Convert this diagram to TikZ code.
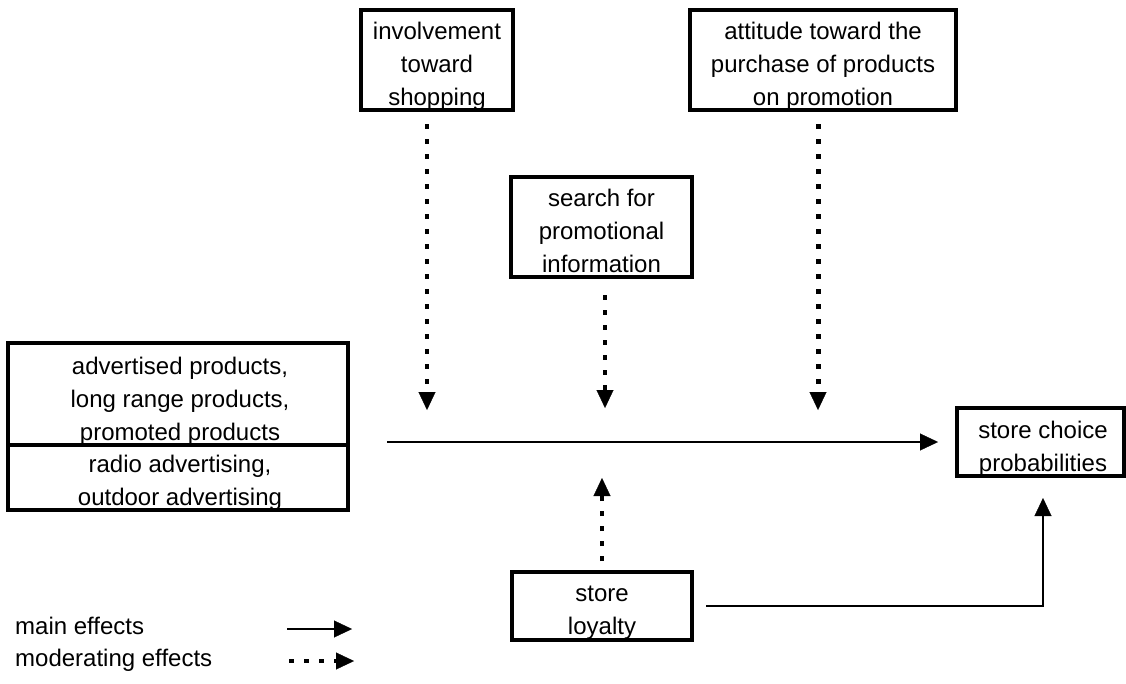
\documentclass[tikz,border=0pt]{standalone}
\usepackage{fontspec}
\setmainfont{Liberation Sans}
\usetikzlibrary{arrows.meta}
\begin{document}
\begin{tikzpicture}[x=1pt,y=-1pt,
  box/.style={draw, line width=4pt, inner sep=0pt},
  txt/.style={anchor=base, inner sep=0pt, font=\fontsize{24}{33}\selectfont},
  lbl/.style={anchor=base west, inner sep=0pt, font=\fontsize{24}{33}\selectfont},
  tiphead/.style={-{Triangle[length=18pt,width=17pt,line width=0.3pt]}},
  mainarrow/.style={tiphead, line width=1.7pt},
  modarrow/.style={tiphead, line width=4.5pt, dash pattern=on 5pt off 10pt},
]
\useasboundingbox (0,0) rectangle (1126,683);

% involvement toward shopping
\node[box, minimum width=152pt, minimum height=100pt] (inv) at (437,60) {};
\node[txt] (inv1) at (437,39) {involvement};
\node[txt] (inv2) at (437,72) {toward};
\node[txt] (inv3) at (437,105) {shopping};

% attitude toward the purchase of products on promotion
\node[box, minimum width=266pt, minimum height=100pt] (att) at (823,60) {};
\node[txt] (att1) at (823,39) {attitude toward the};
\node[txt] (att2) at (823,72) {purchase of products};
\node[txt] (att3) at (823,105) {on promotion};

% search for promotional information
\node[box, minimum width=181pt, minimum height=100pt] (search) at (601.5,227) {};
\node[txt] (s1) at (601.5,206) {search for};
\node[txt] (s2) at (601.5,239) {promotional};
\node[txt] (s3) at (601.5,272) {information};

% left boxes
\node[box, minimum width=340pt, minimum height=102pt] (adv) at (178,394) {};
\node[txt] (a1) at (180,374) {advertised products,};
\node[txt] (a2) at (180,407) {long range products,};
\node[txt] (a3) at (180,440) {promoted products};
\node[box, minimum width=340pt, minimum height=65pt] (radio) at (178,477.5) {};
\node[txt] (r1) at (180,472) {radio advertising,};
\node[txt] (r2) at (180,505) {outdoor advertising};

% store choice probabilities
\node[box, minimum width=167pt, minimum height=68pt] (choice) at (1040.5,442) {};
\node[txt] (c1) at (1043,438) {store choice};
\node[txt] (c2) at (1043,471) {probabilities};

% store loyalty
\node[box, minimum width=180pt, minimum height=68pt] (loyalty) at (602,606) {};
\node[txt] (l1) at (602,601) {store};
\node[txt] (l2) at (602,634) {loyalty};

% main effect arrow
\coordinate (mstart) at (387,442);
\draw[mainarrow] (mstart) -- ([xshift=-17pt]choice.west);

% moderating arrows
\coordinate (invtip) at (427,410);
\draw[modarrow, line width=3.5pt, shorten <=12pt] (invtip |- inv.south) -- (invtip);
\coordinate (srchtip) at (605,408);
\draw[modarrow, shorten <=16pt] (srchtip |- search.south) -- (srchtip);
\coordinate (atttip) at (818,410);
\draw[modarrow, line width=5pt, shorten <=12pt] (atttip |- att.south) -- (atttip);
\coordinate (loytip) at (602,478);
\draw[modarrow, line width=4pt, shorten <=9pt] (loyalty.north) -- (loytip);

% loyalty -> store choice
\coordinate (chtip) at (1043,498);
\draw[mainarrow, shorten <=12pt] (loyalty.east) -| (chtip);

% legend
\node[lbl] (lmain) at (15,634) {main effects};
\node[lbl] (lmod) at (15,666) {moderating effects};
\coordinate (lm1) at (287,629);
\coordinate (lm2) at (352,629);
\draw[mainarrow] (lm1) -- (lm2);
\coordinate (ld1) at (289,661);
\coordinate (ld2) at (354,661);
\draw[modarrow, line width=4pt] (ld1) -- (ld2);
\end{tikzpicture}
\end{document}
